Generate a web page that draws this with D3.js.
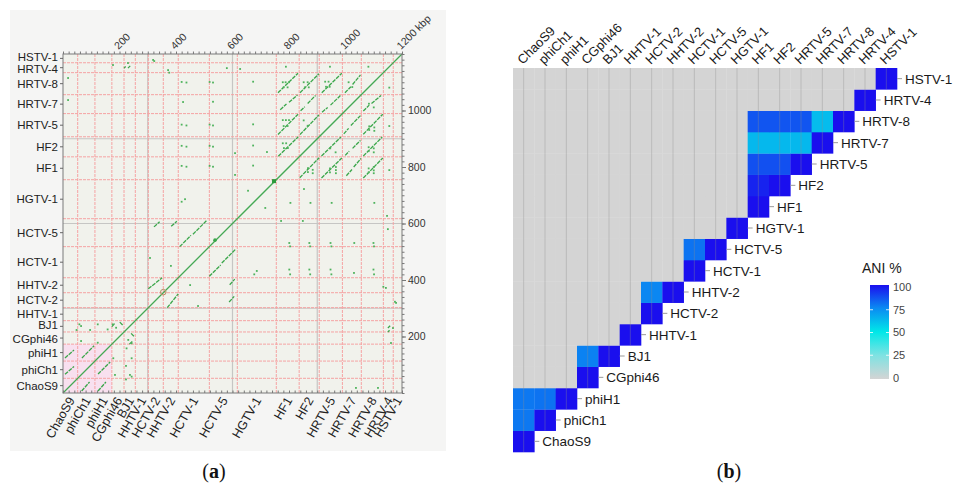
<!DOCTYPE html>
<html>
<head>
<meta charset="utf-8">
<script src="https://cdn.jsdelivr.net/npm/d3@7/dist/d3.min.js"></script>
<style>
body { margin: 0; background: #fff; }
svg { display: block; font-family: "Liberation Sans", Arial, sans-serif; }
</style>
</head>
<body>
<svg id="fig" width="957" height="486"></svg>
<script>

// Data

var genomes = ["ChaoS9", "phiCh1", "phiH1", "CGphi46", "BJ1", "HHTV-1", "HCTV-2", "HHTV-2", "HCTV-1",
	"HCTV-5", "HGTV-1", "HF1", "HF2", "HRTV-5", "HRTV-7", "HRTV-8", "HRTV-4", "HSTV-1"];
var genomeKbp = [52, 61, 60, 43, 40, 46, 53, 53, 110, 99, 138, 81, 71, 82, 67, 78, 35, 31];
var kbpTicks = [200, 400, 600, 800, 1000, 1200];
var rightTicks = [200, 400, 600, 800, 1000];
var greyLines = [300, 600, 900];
var pinkGenomes = ["ChaoS9", "phiCh1", "phiH1"];

// homologous stretches: [column genome, row genome, x0, y0, x1, y1] (kbp inside each genome)
var homology = [
	["ChaoS9", "phiCh1", 7, 14, 39, 42],
	["ChaoS9", "phiH1", 7, 11, 39, 39],
	["phiCh1", "phiH1", 15, 11, 58, 54],
	["CGphi46", "BJ1", 0, 19, 11, 31],
	["CGphi46", "BJ1", 28, 35, 39, 24],
	["HCTV-2", "HHTV-2", 0, 14, 49, 53],
	["HCTV-2", "HCTV-5", 20, 70, 40, 88],
	["HHTV-2", "HCTV-5", 28, 72, 48, 90],
	["HCTV-1", "HCTV-5", 5, 0, 45, 40],
	["HCTV-1", "HCTV-5", 52, 44, 100, 92],
	["HF1", "HF2", 7, 2, 78, 71],
	["HF1", "HRTV-5", 6, 8, 77, 80],
	["HF1", "HRTV-7", 14, 14, 36, 34],
	["HF1", "HRTV-7", 45, 40, 75, 66],
	["HF1", "HRTV-8", 6, 7, 77, 76],
	["HF2", "HRTV-5", 3, 8, 70, 77],
	["HF2", "HRTV-7", 5, 10, 20, 24],
	["HF2", "HRTV-7", 30, 36, 58, 64],
	["HF2", "HRTV-8", 3, 7, 70, 74],
	["HRTV-5", "HRTV-7", 10, 5, 30, 22],
	["HRTV-5", "HRTV-7", 40, 30, 75, 64],
	["HRTV-5", "HRTV-8", 9, 7, 80, 76],
	["HRTV-7", "HRTV-8", 9, 7, 30, 28],
	["HRTV-7", "HRTV-8", 36, 36, 64, 70],
	["BJ1", "HRTV-4", 14, 16, 22, 24],
	["BJ1", "HRTV-4", 0, 16, 6, 22]
];

// short hits, absolute kbp (x, y), mirrored across the diagonal
var hits = [
	[420, 1101], [437, 1099], [519, 1101], [531, 1099], [673, 1102],
	[425, 1030], [531, 1031],
	[420, 950], [437, 947], [519, 950], [531, 947], [673, 951],
	[420, 875], [437, 872], [519, 875], [531, 872], [673, 876],
	[420, 804], [437, 801], [519, 804], [531, 801], [673, 805],
	[420, 677], [432, 686], [655, 716], [609, 849], [722, 853], [609, 772],
	[778, 1100], [788, 1100], [800, 1100], [781, 1082], [795, 1082],
	[852, 1100], [866, 1100], [856, 1082], [870, 1082],
	[928, 1102], [940, 1102], [931, 1084], [944, 1084],
	[1011, 1100], [1024, 1083],
	[778, 966], [789, 966], [800, 966], [781, 945], [795, 945],
	[852, 965], [866, 946],
	[778, 884], [790, 884], [782, 867], [796, 867],
	[18, 1115], [18, 1037], [177, 1161], [230, 1168],
	[319, 1179], [372, 1143], [580, 1150], [627, 1147], [789, 1155], [945, 1155], [1081, 1155],
	[188, 231], [176, 243], [158, 225], [123, 243], [123, 178], [64, 184], [64, 237], [58, 243],
	[48, 223], [96, 223], [308, 478], [382, 450], [376, 1134], [323, 1175]
];

// ANI (%) between genome pairs, [row genome, column genome, value]; diagonal = 100
var aniPairs = [
	["phiCh1", "ChaoS9", 79], ["phiH1", "ChaoS9", 79], ["phiH1", "phiCh1", 80],
	["BJ1", "CGphi46", 77], ["HHTV-2", "HCTV-2", 76], ["HCTV-5", "HCTV-1", 80],
	["HF2", "HF1", 96],
	["HRTV-5", "HF1", 87], ["HRTV-5", "HF2", 87],
	["HRTV-7", "HF1", 63], ["HRTV-7", "HF2", 63], ["HRTV-7", "HRTV-5", 63],
	["HRTV-8", "HF1", 86], ["HRTV-8", "HF2", 86], ["HRTV-8", "HRTV-5", 86], ["HRTV-8", "HRTV-7", 62]
];
var aniTicks = [0, 25, 50, 75, 100];
var aniColours = ["#d4d4d4", "#7fe2e2", "#00e8e8", "#0a8cf2", "#1a0fee"];

// Layout

var svg = d3.select("#fig");
var green = "#3aa64a";

var starts = [0].concat(Array.from(d3.cumsum(genomeKbp)));
var startOf = {};
genomes.forEach(function (g, i) { startOf[g] = starts[i]; });

// Panel (a): dot plot

var x = d3.scaleLinear().domain([0, 1200]).range([63, 402]);
var y = d3.scaleLinear().domain([0, 1200]).range([393, 54]);

svg.append("rect")
	.attr("x", 10).attr("y", 10)
	.attr("width", 436).attr("height", 441)
	.attr("fill", "#f5f5f4");

var dp = svg.append("g");

dp.append("rect")
	.attr("x", x(0)).attr("y", y(1200))
	.attr("width", x(1200) - x(0)).attr("height", y(0) - y(1200))
	.attr("fill", "#f1f2ec");

var pinkEnd = startOf[pinkGenomes[pinkGenomes.length - 1]] + genomeKbp[genomes.indexOf(pinkGenomes[pinkGenomes.length - 1])];
dp.append("rect")
	.attr("x", x(0)).attr("y", y(pinkEnd))
	.attr("width", x(pinkEnd) - x(0)).attr("height", y(0) - y(pinkEnd))
	.attr("fill", "#f8e0ef");

// grey guide lines
greyLines.forEach(function (v) {
	dp.append("line").attr("x1", x(v)).attr("x2", x(v)).attr("y1", y(0)).attr("y2", y(1200))
		.attr("stroke", "#c6c6c4").attr("stroke-width", 1.2);
	dp.append("line").attr("x1", x(0)).attr("x2", x(1200)).attr("y1", y(v)).attr("y2", y(v))
		.attr("stroke", "#c6c6c4").attr("stroke-width", 1.2);
});

// genome boundaries
var bounds = starts.slice(1, -1);
dp.selectAll(".vb").data(bounds).enter().append("line")
	.attr("x1", function (d) { return x(d); }).attr("x2", function (d) { return x(d); })
	.attr("y1", y(0)).attr("y2", y(1200))
	.attr("stroke", "#f5a3a3").attr("stroke-width", 1).attr("stroke-dasharray", "3,1");
dp.selectAll(".hb").data(bounds).enter().append("line")
	.attr("y1", function (d) { return y(d); }).attr("y2", function (d) { return y(d); })
	.attr("x1", x(0)).attr("x2", x(1200))
	.attr("stroke", "#f5a3a3").attr("stroke-width", 1).attr("stroke-dasharray", "3,1");

// homology segments, both halves
var segs = [];
homology.forEach(function (h) {
	var sa = startOf[h[0]], sb = startOf[h[1]];
	segs.push([sa + h[2], sb + h[3], sa + h[4], sb + h[5]]);
	segs.push([sb + h[3], sa + h[2], sb + h[5], sa + h[4]]);
});

dp.selectAll(".seg").data(segs).enter().append("line")
	.attr("x1", function (d) { return x(d[0]); }).attr("y1", function (d) { return y(d[1]); })
	.attr("x2", function (d) { return x(d[2]); }).attr("y2", function (d) { return y(d[3]); })
	.attr("stroke", green).attr("stroke-width", 1.3).attr("stroke-dasharray", "4,1");

var dots = [];
hits.forEach(function (p) { dots.push(p); dots.push([p[1], p[0]]); });

dp.selectAll(".dot").data(dots).enter().append("rect")
	.attr("x", function (d) { return x(d[0]) - 0.9; }).attr("y", function (d) { return y(d[1]) - 0.9; })
	.attr("width", 1.8).attr("height", 1.8)
	.attr("fill", "#4fb35d");

// self diagonal
dp.append("line")
	.attr("x1", x(0)).attr("y1", y(0)).attr("x2", x(1200)).attr("y2", y(1200))
	.attr("stroke", "#45a955").attr("stroke-width", 1.3);

dp.append("rect")
	.attr("x", x(747) - 2).attr("y", y(750) - 2).attr("width", 4).attr("height", 4)
	.attr("fill", "#2c9a3c");
dp.append("circle")
	.attr("cx", x(355)).attr("cy", y(357)).attr("r", 2.8)
	.attr("fill", "none").attr("stroke", "#b88d62").attr("stroke-width", 1);
dp.append("circle")
	.attr("cx", x(538)).attr("cy", y(541)).attr("r", 1.8)
	.attr("fill", "#3aa64a");

// frame
dp.append("rect")
	.attr("x", x(0)).attr("y", y(1200))
	.attr("width", x(1200) - x(0)).attr("height", y(0) - y(1200))
	.attr("fill", "none").attr("stroke", "#7a7a7a").attr("stroke-width", 1);

// Axes

var minor = x.ticks(60);

var topAxis = dp.append("g").attr("transform", "translate(0," + y(1200) + ")")
	.call(d3.axisTop(x).tickValues(minor).tickSize(2.5).tickFormat(""));
var rightAxis = dp.append("g").attr("transform", "translate(" + x(1200) + ",0)")
	.call(d3.axisRight(y).tickValues(minor).tickSize(2.5).tickFormat(""));
var rightMajor = dp.append("g").attr("transform", "translate(" + x(1200) + ",0)")
	.call(d3.axisRight(y).tickValues(rightTicks).tickSize(4).tickPadding(2).tickFormat(d3.format("d")));
var bottomAxis = dp.append("g").attr("transform", "translate(0," + y(0) + ")")
	.call(d3.axisTop(x).tickValues(minor).tickSize(2.5).tickFormat(""));

[topAxis, rightAxis, rightMajor, bottomAxis].forEach(function (a) {
	a.select(".domain").remove();
	a.selectAll("line").attr("stroke", "#777");
});
rightMajor.selectAll("text")
	.attr("font-size", "10.5px").attr("fill", "#333").attr("font-family", "Liberation Sans, Arial, sans-serif");

// top kbp labels
dp.selectAll(".toplab").data(kbpTicks).enter().append("text")
	.attr("transform", function (d) { return "translate(" + (x(d) - 1) + ",50) rotate(-45)"; })
	.attr("font-size", "10.5px").attr("fill", "#333")
	.text(function (d) { return d === 1200 ? "1200 kbp" : d; });

// genome labels, left (small nudges where rows are tight)
var mids = genomes.map(function (g, i) { return starts[i] + genomeKbp[i] / 2; });
var leftNudge = { "HSTV-1": -1.5, "HRTV-4": 1, "BJ1": -1, "CGphi46": 1 };

dp.selectAll(".ltick").data(mids).enter().append("line")
	.attr("x1", x(0) - 3).attr("x2", x(0))
	.attr("y1", function (d) { return y(d); }).attr("y2", function (d) { return y(d); })
	.attr("stroke", "#666");

dp.selectAll(".llab").data(genomes).enter().append("text")
	.attr("x", 58)
	.attr("y", function (d, i) { return y(mids[i]) + (leftNudge[d] || 0); })
	.attr("dy", "0.36em")
	.attr("text-anchor", "end")
	.attr("font-size", "11.5px").attr("fill", "#222")
	.text(function (d) { return d; });

// genome labels, bottom
dp.selectAll(".blab").data(genomes).enter().append("text")
	.attr("transform", function (d, i) { return "translate(" + (x(mids[i]) + 1) + ",398) rotate(-60)"; })
	.attr("dy", "0.36em")
	.attr("text-anchor", "end")
	.attr("font-size", "12.5px").attr("fill", "#222")
	.text(function (d) { return d; });

// Panel (b): ANI heatmap

var xb = d3.scaleBand().domain(genomes).range([513, 897]);
var yb = d3.scaleBand().domain(genomes.slice().reverse()).range([68, 452]);
var colour = d3.scaleLinear().domain(aniTicks).range(aniColours);

var aniLookup = {};
aniPairs.forEach(function (p) { aniLookup[p[0] + "|" + p[1]] = p[2]; });

var cells = [];
genomes.forEach(function (r, i) {
	genomes.forEach(function (c, j) {
		if (j > i) return;
		var v = i === j ? 100 : (aniLookup[r + "|" + c] || 0);
		cells.push({ row: r, col: c, value: v });
	});
});

var hm = svg.append("g");

hm.selectAll(".cell").data(cells).enter().append("rect")
	.attr("x", function (d) { return xb(d.col); })
	.attr("y", function (d) { return yb(d.row); })
	.attr("width", xb.bandwidth() + 0.3)
	.attr("height", yb.bandwidth() + 0.3)
	.attr("fill", function (d) { return colour(d.value); });

// vertical grid lines at column centres
hm.selectAll(".grid").data(genomes).enter().append("line")
	.attr("x1", function (d) { return xb(d) + xb.bandwidth() / 2; })
	.attr("x2", function (d) { return xb(d) + xb.bandwidth() / 2; })
	.attr("y1", 68)
	.attr("y2", function (d) { return yb(d) + yb.bandwidth(); })
	.attr("stroke", "#8c8c8c").attr("stroke-opacity", 0.4).attr("stroke-width", 0.9);

// row ticks and labels beside the diagonal
hm.selectAll(".rtick").data(genomes).enter().append("line")
	.attr("x1", function (d) { return xb(d) + xb.bandwidth(); })
	.attr("x2", function (d) { return xb(d) + xb.bandwidth() + 5; })
	.attr("y1", function (d) { return yb(d) + yb.bandwidth() / 2; })
	.attr("y2", function (d) { return yb(d) + yb.bandwidth() / 2; })
	.attr("stroke", "#999");

hm.selectAll(".rlab").data(genomes).enter().append("text")
	.attr("x", function (d) { return xb(d) + xb.bandwidth() + 8; })
	.attr("y", function (d) { return yb(d) + yb.bandwidth() / 2; })
	.attr("dy", "0.36em")
	.attr("font-size", "13.5px").attr("fill", "#1a1a1a")
	.text(function (d) { return d; });

// column labels
hm.selectAll(".clab").data(genomes).enter().append("text")
	.attr("transform", function (d) { return "translate(" + (xb(d) + xb.bandwidth() / 2 - 1) + ",65) rotate(-45)"; })
	.attr("font-size", "13px").attr("fill", "#1a1a1a")
	.text(function (d) { return d; });

// Legend

var legY = d3.scaleLinear().domain([0, 100]).range([378, 287]);

var grad = svg.append("defs").append("linearGradient")
	.attr("id", "aniGrad")
	.attr("x1", 0).attr("y1", 1).attr("x2", 0).attr("y2", 0);
grad.selectAll("stop").data(aniTicks).enter().append("stop")
	.attr("offset", function (d) { return d / 100; })
	.attr("stop-color", function (d) { return colour(d); });

svg.append("text")
	.attr("x", 862).attr("y", 273)
	.attr("font-size", "14px").attr("fill", "#1a1a1a")
	.text("ANI %");

svg.append("rect")
	.attr("x", 870).attr("y", legY(100) - 2)
	.attr("width", 19).attr("height", legY(0) - legY(100) + 3)
	.attr("fill", "url(#aniGrad)");

svg.selectAll(".legtick").data(aniTicks.slice(1, -1)).enter().append("g")
	.each(function (d) {
		d3.select(this).append("line")
			.attr("x1", 870).attr("x2", 873).attr("y1", legY(d)).attr("y2", legY(d))
			.attr("stroke", "#fff").attr("stroke-opacity", 0.8);
		d3.select(this).append("line")
			.attr("x1", 886).attr("x2", 889).attr("y1", legY(d)).attr("y2", legY(d))
			.attr("stroke", "#fff").attr("stroke-opacity", 0.8);
	});

svg.selectAll(".leglab").data(aniTicks).enter().append("text")
	.attr("x", 893)
	.attr("y", function (d) { return legY(d); })
	.attr("dy", "0.36em")
	.attr("font-size", "11px").attr("fill", "#444")
	.text(function (d) { return d; });

// Captions

[["a", 214], ["b", 729]].forEach(function (c) {
	var t = svg.append("text")
		.attr("x", c[1]).attr("y", 478)
		.attr("text-anchor", "middle")
		.attr("font-family", "Liberation Serif, DejaVu Serif, serif")
		.attr("font-size", "20px").attr("fill", "#111");
	t.append("tspan").text("(");
	t.append("tspan").attr("font-weight", "bold").text(c[0]);
	t.append("tspan").text(")");
});

</script>
</body>
</html>
